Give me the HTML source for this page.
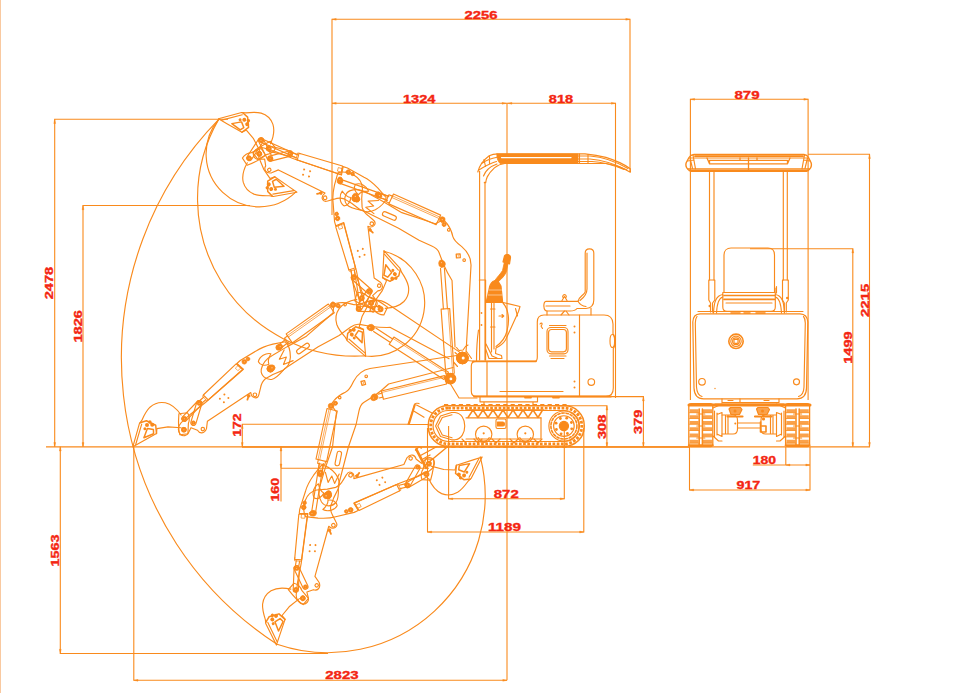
<!DOCTYPE html>
<html lang="en">
<head>
<meta charset="utf-8">
<title>Mini excavator working range and dimensions</title>
<style>
html,body{margin:0;padding:0;background:#fff;}
body{width:976px;height:693px;overflow:hidden;font-family:"Liberation Sans",sans-serif;}
svg{display:block;}
.ln{fill:none;stroke:#F98A1C;stroke-width:1.15;stroke-linecap:round;stroke-linejoin:round;}
.dim{fill:none;stroke:#F98A1C;stroke-width:1.1;}
.hv{fill:none;stroke:#F98A1C;stroke-width:1.5;}
text{font-family:"Liberation Sans",sans-serif;font-weight:bold;fill:#F42612;stroke:#F42612;stroke-width:0.35;}
</style>
</head>
<body>
<svg width="976" height="693" viewBox="0 0 976 693">
<rect x="0" y="0" width="976" height="693" fill="#fff"/>
<path d="M0.5 0V693" stroke="#F9C9A0" stroke-width="1" fill="none"/>
<g class="dim">
<path d="M46 446.8L870 446.8" stroke-width="1.3"/>
<path d="M242 446.9L690 446.9" stroke-width="1.55"/>
<path d="M228 119.3L54.7 119.3L54.7 446.8"/>
<path d="M250 205.5L83 205.5L83 446.8"/>
<path d="M60.3 446.8L60.3 653.5L328 653.5"/>
<path d="M133.8 446.8L133.8 680.3L507 680.3"/>
<path d="M507 103.3L507 680.3"/>
<path d="M332 215L332 19.3L630 19.3L630 171"/>
<path d="M332 103.3L615.5 103.3L615.5 398"/>
<path d="M242.3 446.8L242.3 424.3L408 424.3"/>
<path d="M281 446.8L281 501.6"/>
<path d="M281 468.2L429 468.2"/>
<path d="M448.6 426L448.6 498.8L564.3 498.8L564.3 426"/>
<path d="M427.5 428L427.5 532L583.8 532L583.8 428"/>
<path d="M556 405.7L606.9 405.7L606.9 446.8"/>
<path d="M560 396.6L643.4 396.6L643.4 446.8"/>
<path d="M690.4 400L690.4 99.3L808.1 99.3L808.1 400"/>
<path d="M808 154.3L869.5 154.3L869.5 446.8"/>
<path d="M750 248.7L852.8 248.7L852.8 446.8"/>
<path d="M689.5 446.8L689.5 490L810 490L810 446.8"/>
<path d="M752.8 465L810 465"/>
<path d="M785.8 446.8L785.8 465"/>
</g>
<g>
<text x="464.5" y="18.6" textLength="33" lengthAdjust="spacingAndGlyphs" font-size="10.6">2256</text>
<text x="403" y="102.6" textLength="32.5" lengthAdjust="spacingAndGlyphs" font-size="10.6">1324</text>
<text x="548.8" y="102.6" textLength="24.3" lengthAdjust="spacingAndGlyphs" font-size="10.6">818</text>
<text x="734.5" y="98.6" textLength="25" lengthAdjust="spacingAndGlyphs" font-size="10.6">879</text>
<text x="493.8" y="497.6" textLength="24.9" lengthAdjust="spacingAndGlyphs" font-size="10.6">872</text>
<text x="488" y="530.8" textLength="33" lengthAdjust="spacingAndGlyphs" font-size="10.6">1189</text>
<text x="325.3" y="679.1" textLength="33.2" lengthAdjust="spacingAndGlyphs" font-size="10.6">2823</text>
<text x="736.5" y="489.3" textLength="23.8" lengthAdjust="spacingAndGlyphs" font-size="10.6">917</text>
<text x="752.8" y="464.3" textLength="23.3" lengthAdjust="spacingAndGlyphs" font-size="10.6">180</text>
<text x="53.5" y="299.3" textLength="32.5" lengthAdjust="spacingAndGlyphs" font-size="10.6" transform="rotate(-90 53.5 299.3)">2478</text>
<text x="82" y="342.5" textLength="32.5" lengthAdjust="spacingAndGlyphs" font-size="10.6" transform="rotate(-90 82 342.5)">1826</text>
<text x="59.4" y="566.5" textLength="32" lengthAdjust="spacingAndGlyphs" font-size="10.6" transform="rotate(-90 59.4 566.5)">1563</text>
<text x="240.9" y="436.8" textLength="23.3" lengthAdjust="spacingAndGlyphs" font-size="10.6" transform="rotate(-90 240.9 436.8)">172</text>
<text x="279.4" y="501.6" textLength="23.8" lengthAdjust="spacingAndGlyphs" font-size="10.6" transform="rotate(-90 279.4 501.6)">160</text>
<text x="606.3" y="439" textLength="24.4" lengthAdjust="spacingAndGlyphs" font-size="10.6" transform="rotate(-90 606.3 439)">308</text>
<text x="642.4" y="434" textLength="24.4" lengthAdjust="spacingAndGlyphs" font-size="10.6" transform="rotate(-90 642.4 434)">379</text>
<text x="852.1" y="363.8" textLength="32.5" lengthAdjust="spacingAndGlyphs" font-size="10.6" transform="rotate(-90 852.1 363.8)">1499</text>
<text x="868.9" y="317" textLength="33.2" lengthAdjust="spacingAndGlyphs" font-size="10.6" transform="rotate(-90 868.9 317)">2215</text>
</g>
<g class="ln" stroke-width="1">
<path d="M219 119.2A341 341 0 0 0 277 644.2L277 644.2A157.2 157.2 0 0 0 480.3 456.8"/>
<path d="M218.8 119.1A157.9 157.9 0 0 0 365.7 355.8L365.7 356A53.3 53.3 0 0 0 383.9 251.2"/>
<path d="M219 119.2A53 53 0 0 0 296 191.9"/>
</g>
<g class="ln">
<path d="M477.8 172C479.5 165 482.2 160.9 489.2 155.7C492 154.3 495 153.9 497.9 153.9L585 153.9C593 154.6 600 155.8 605.9 157.4C611 159 615.5 160.8 619.8 162.6C624 164.6 627.5 166.6 630.3 168.7L630.3 172.2C627 170.3 623.5 168.6 619.8 167C615 165.3 611 164.3 605.9 163.5L504.8 163.5C500 164 497 165.8 494.4 167.9C490.5 171.5 488.5 174.5 487.4 176.6C486.3 179 485.9 181 485.7 182.7L484.3 182.7" stroke-width="1.2"/>
<path d="M497 154H578V163.5H500C497.5 161 496.5 157 497 154Z" fill="#F98A1C" stroke-width="0.8"/>
<path d="M501.5 157.6H571" stroke="#fff" stroke-width="1.3"/>
<path d="M479.5 169.5C484 167 489 163.5 496.5 161.5M481.5 163.5C486 160.5 490 158.5 497 157.3M489.5 156V163.5M484 159.5L485.5 166.5M483.5 176C485.5 170.5 490 166.5 497 164"/>
<path d="M578 156H590C603 157 615 161 628 168.5M578 159H590C602 160 614 163.5 627 170M578 161.5H592C603 162 613 165 624 169.5M579.5 154V163.5M588 154.5V163.5" stroke-width="1.1"/>
<path d="M479.6 171V360M485 182V360"/>
<path d="M479.3 280H485.6V360" />
</g>
<g class="ln">
<path d="M476 361.3H535C537 361 537.3 359 537.3 357V322C537.3 317 540 315 544 315H604C610 315 612.8 318 613 324V334C615.5 336 615.5 346 613.3 348.5V388C613.3 394 611 396.3 606 396.3H476C472.5 396.3 471.3 394 471.3 391V366C471.3 363 473 361.3 476 361.3Z"/>
<path d="M579.5 315V396.3M487 361.5V396M500 391.5H563"/>
<path d="M473 361.3H536M474 396.5H611" stroke-width="1.8"/>
<rect x="547" y="327.5" width="21" height="26.3" rx="4"/>
<rect x="548.6" y="329.5" width="17.8" height="22.3" rx="3"/>
<path d="M549.5 325.5H566M549.5 356H566M551 358.5H564"/>
<circle cx="591.3" cy="382" r="3.3"/>
<ellipse cx="612.3" cy="341" rx="2.3" ry="6.5"/>
<circle cx="574.5" cy="326.5" r="1" fill="#F98A1C" stroke="none"/>
<circle cx="574.5" cy="332.5" r="1" fill="#F98A1C" stroke="none"/>
<circle cx="574.5" cy="381.5" r="1" fill="#F98A1C" stroke="none"/>
<circle cx="574.5" cy="387.5" r="1" fill="#F98A1C" stroke="none"/>
<path d="M540 324C541.5 322 543 323.5 541.5 325.5M541 326L542.5 328.5"/>
<path d="M546 301.3H578C579 296.5 583 296 585.2 292V253C585.2 247.5 593.8 247.5 593.8 253V300C593.8 306 591 308 586 308.5H577C575 311 572 311 570 311H547C543 311 543 301.3 546 301.3Z"/>
<path d="M587 253V289C587 294 584 297.5 580 300.5M578 301.3C579.5 304 581 306 586 306.5M546 306H570M547 311V315M591 308V315"/>
<path d="M562 300.5L564.5 296.5L567 300.5M564.5 311L561 315M566 311L569 315M563 297.5A1.8 1.8 0 1 1 566 297.5"/>
<path d="M486.3 301.5L489.5 287C490.5 283.5 492 281.5 494.5 280.8L498 281L501 286L502.6 301.5Z" fill="#F98A1C"/>
<path d="M488 295H502M489 290H501.5" stroke="#fff" stroke-width="0.5"/>
<path d="M494.5 281C497 277 500.5 274 502.5 270.5L504.3 262.5L508 263.5L506.5 271.5C505 275.5 502 278.5 498.5 281.5Z" fill="#F98A1C" stroke-width="0.8"/>
<path d="M503 262L504.5 256C505.5 253.5 510.5 254.5 510.5 257.5L509.5 263.8Z" fill="#F98A1C" stroke-width="1.2"/>
<path d="M485.5 302.5L503 302.5L520 306.5L518.5 311.5L505.5 340C503 344 498 347 496 348L495.5 353.5L501.5 355.5L502 358.5H489L485.8 349.5"/>
<path d="M503 303C508.5 309 510 320 507 331C505.5 337.5 501 343 496 346.5M491.5 303V352M494 303V349M515.5 308.5L517.5 316M490.5 309H495M490.5 327H495M486 344L492 356L497 358"/>
<path d="M499 316H503.5M502 314.5L503.8 316L502 317.5"/>
<circle cx="481.5" cy="313" r="0.9" fill="#F98A1C" stroke="none"/>
<circle cx="481.5" cy="325" r="0.9" fill="#F98A1C" stroke="none"/>
<path d="M478.5 330C477 340 476.5 350 476.5 361"/>
</g>
<g class="ln">
<rect x="428.3" y="405.7" width="155.9" height="40.6" rx="19.5" ry="19.5" stroke-width="1.5"/>
<rect x="430.7" y="408.1" width="151.1" height="35.8" rx="17.5" ry="17.5" stroke-width="2.8" stroke-dasharray="2.7 1.5" stroke-linecap="butt"/>
<rect x="433.1" y="410.5" width="146.3" height="31" rx="15.2" ry="15.2" stroke-width="1.2"/>
<path d="M444 405 H568" stroke-dasharray="4.2 3.2" stroke-width="2" stroke-linecap="butt"/>
<path d="M444 446.8 H568" stroke-dasharray="4.2 3.2" stroke-width="2.2" stroke-linecap="butt"/>
<path d="M541 417.8V439H466"/>
<path d="M468 417.5L473 410L478 417.5L483 410L488 417.5L493 410L498 417.5L503 410L508 417.5L513 410L518 417.5L523 410L528 417.5L533 410L538 417.5L542 411" stroke-width="1.5"/>
<path d="M466 409.8H544M466 417.8H541" stroke-width="1.2"/>
<path d="M462 439L466 443M474 439L478 443L482 439M492 439L496 443L500 439M510 439L514 443L518 439M534 439L538 443L542 439" />
<path d="M435.6 426L440.5 416L451.5 412.5H455C468 413.5 468 438.5 455 439.8H451.5L440.5 436.5Z"/>
<path d="M437.8 426L442.3 417.5L452 414.8M437.8 426L442.3 435L452 437.8"/>
<circle cx="483.7" cy="434.3" r="8.2"/>
<path d="M478.2 437.5A6 6 0 0 0 489.2 437.5"/>
<circle cx="483.7" cy="433.3" r="1.1" fill="#F98A1C" stroke="none"/>
<circle cx="525.3" cy="434.3" r="8.2"/>
<path d="M519.8 437.5A6 6 0 0 0 530.8 437.5"/>
<circle cx="525.3" cy="433.3" r="1.1" fill="#F98A1C" stroke="none"/>
<rect x="496" y="419" width="10" height="9.5" rx="1.5"/>
<path d="M497.5 422H503C505 422 505 426 503 426H497.5Z" fill="#F98A1C"/>
<circle cx="563.9" cy="426" r="15"/>
<circle cx="563.9" cy="426" r="13" stroke-dasharray="2.4 1.8" stroke-width="1.6"/>
<circle cx="563.9" cy="426" r="10.3"/>
<circle cx="563.9" cy="426" r="4.6" fill="#F98A1C"/>
<circle cx="571.7" cy="428.8" r="1.4" fill="#F98A1C" stroke="none"/>
<circle cx="567.4" cy="433.5" r="1.4" fill="#F98A1C" stroke="none"/>
<circle cx="561.1" cy="433.8" r="1.4" fill="#F98A1C" stroke="none"/>
<circle cx="556.4" cy="429.5" r="1.4" fill="#F98A1C" stroke="none"/>
<circle cx="556.1" cy="423.2" r="1.4" fill="#F98A1C" stroke="none"/>
<circle cx="560.4" cy="418.5" r="1.4" fill="#F98A1C" stroke="none"/>
<circle cx="566.7" cy="418.2" r="1.4" fill="#F98A1C" stroke="none"/>
<circle cx="571.4" cy="422.5" r="1.4" fill="#F98A1C" stroke="none"/>
<path d="M480 397V401.8H537.5V397M484 401.8V404.5M533 401.8V404.5"/>
<path d="M525 397.5H531M553 397.5H559" stroke-width="1.8"/>
<path d="M416.3 449.3L426 467.8" stroke-width="2.6"/>
<path d="M415.5 450L419 446.8L421.5 448M420.5 455.5L437 446.5M425.5 465L447.5 446.8M423 459L430 455" stroke-width="1.4"/>
<path d="M409 424L415 404.6" stroke-width="1.8"/>
<path d="M408 424.5L414.4 404.4C415 403 418 403 419 403.6M416.5 405L433 413.5M413.3 410.8L424 417.3M408 424.5H428"/>
</g>
<g class="ln">
<path d="M694 154.5H804C806 154.8 807.5 155.8 808.5 157.5L811 162.5C812.2 166 810.5 170 806.5 171.3H691C687 170 685 166 686.3 162.5L689 157.5C690 155.8 691.5 154.8 694 154.5Z" stroke-width="1.4"/>
<path d="M690 158H807.5M688 168.8H809.5" />
<path d="M689.5 170.4H808" stroke-width="1.8"/>
<path d="M693 155L695.5 168.8M804.5 155L802 168.8M687.5 161L693.5 160M810 161L804 160M690 158L692.5 168.5M807.5 158L805 168.5" />
<path d="M707 158L709.5 163.8H787.5L790 158M709.5 163.8V160.3H787.5V163.8M748.5 158V171M740 158V160.3M757 158V160.3" stroke-width="1.3"/>
<path d="M695 156.2H803" stroke-width="1.7"/>
<path d="M709.5 171.3V280M714 171.3V280M783.3 171.3V280M787.3 171.3V280"/>
<path d="M708.8 280H714.8V300L712.5 303V312M708.8 280V300L710.5 303V312M782.5 280H788.3V300L786.3 303V312M782.5 280V300L784.3 303V312"/>
<circle cx="709.8" cy="306" r="1.3" fill="#F98A1C" stroke="none"/>
<circle cx="787.3" cy="298" r="1.3" fill="#F98A1C" stroke="none"/>
<path d="M724 292.5V255C724 250.5 727 248 731 248H768C772 248 774.5 250.5 774.5 255V292.5"/>
<path d="M722.8 292.5H775.3V307C775.3 310 773.5 311.3 771 311.3H727C724.5 311.3 722.8 310 722.8 307Z"/>
<path d="M724 295.5H774.5M724 299.3H774.5" stroke-width="1.7"/>
<path d="M726 303H772"/>
<path d="M722.8 294.5C716 295.5 714 302 713.5 313M775.3 294.5C782 295.5 784 302 784.5 313M722.8 297C718.5 298 717 304 716.5 313M775.3 297C779.5 298 781 304 781.5 313M775 288V292M776.5 286.5V293"/>
<path d="M731 313H740M744 313H750M756 313H765" stroke-width="1.5"/>
<path d="M700 313.8H800C805 314 807.5 317 807.8 322L806.5 388C806.3 395 803 398.8 797 398.8H703.5C697.5 398.8 694.3 395 694 388L692.8 322C693 317 695.5 314 700 313.8Z" stroke-width="1.2"/>
<path d="M697 316.5C695.8 318 695.3 320 695.3 323L696.5 387C696.8 392 698.5 395.5 702 396.5M803.5 316.5C804.8 318 805.3 320 805.3 323L804 387C803.8 392 802 395.5 798.5 396.5M698 311.5H803"/>
<circle cx="736" cy="341.3" r="7.2" stroke-width="1.6"/>
<circle cx="736" cy="341.3" r="5.2"/>
<circle cx="736" cy="341.3" r="3.4"/>
<rect x="734" y="339.3" width="4" height="4" rx="0.8"/>
<circle cx="702" cy="381.8" r="3.3"/>
<circle cx="796.5" cy="381.8" r="3"/>
<circle cx="715" cy="388.5" r="0.7" fill="#F98A1C" stroke="none"/>
<path d="M722 398.8V402.5H779V398.8M740 398.8V402.5M728 400.5H733M764 400.5H769M715 404H784"/>
<path d="M689 405H810" stroke-width="3"/>
<rect x="688.8" y="403.6" width="24" height="43" rx="2.5" stroke-width="1.3"/>
<path d="M689.6 411H698.6M703 411H712" stroke-width="3.3" stroke="#FAA24C" stroke-linecap="butt"/>
<path d="M689.6 412.7H698.6M703 412.7H712" stroke-width="0.8"/>
<path d="M689.6 416.8H698.6M703 416.8H712" stroke-width="3.3" stroke="#FAA24C" stroke-linecap="butt"/>
<path d="M689.6 418.5H698.6M703 418.5H712" stroke-width="0.8"/>
<path d="M689.6 422.6H698.6M703 422.6H712" stroke-width="3.3" stroke="#FAA24C" stroke-linecap="butt"/>
<path d="M689.6 424.3H698.6M703 424.3H712" stroke-width="0.8"/>
<path d="M689.6 428.8H698.6M703 428.8H712" stroke-width="3.3" stroke="#FAA24C" stroke-linecap="butt"/>
<path d="M689.6 430.5H698.6M703 430.5H712" stroke-width="0.8"/>
<path d="M689.6 435.2H698.6M703 435.2H712" stroke-width="3.3" stroke="#FAA24C" stroke-linecap="butt"/>
<path d="M689.6 436.9H698.6M703 436.9H712" stroke-width="0.8"/>
<path d="M689.6 441.5H698.6M703 441.5H712" stroke-width="3.3" stroke="#FAA24C" stroke-linecap="butt"/>
<path d="M689.6 443.2H698.6M703 443.2H712" stroke-width="0.8"/>
<path d="M699.2 409V445.5M702.4 409V445.5" stroke-width="1.5"/>
<path d="M696.8 414H704.8M696.8 426H704.8M696.8 438H704.8" stroke-width="1.2"/>
<path d="M688.8 445.3H712.8" stroke-width="2"/>
<rect x="785.6" y="403.6" width="24" height="43" rx="2.5" stroke-width="1.3"/>
<path d="M786.4 411H795.4M799.8 411H808.8" stroke-width="3.3" stroke="#FAA24C" stroke-linecap="butt"/>
<path d="M786.4 412.7H795.4M799.8 412.7H808.8" stroke-width="0.8"/>
<path d="M786.4 416.8H795.4M799.8 416.8H808.8" stroke-width="3.3" stroke="#FAA24C" stroke-linecap="butt"/>
<path d="M786.4 418.5H795.4M799.8 418.5H808.8" stroke-width="0.8"/>
<path d="M786.4 422.6H795.4M799.8 422.6H808.8" stroke-width="3.3" stroke="#FAA24C" stroke-linecap="butt"/>
<path d="M786.4 424.3H795.4M799.8 424.3H808.8" stroke-width="0.8"/>
<path d="M786.4 428.8H795.4M799.8 428.8H808.8" stroke-width="3.3" stroke="#FAA24C" stroke-linecap="butt"/>
<path d="M786.4 430.5H795.4M799.8 430.5H808.8" stroke-width="0.8"/>
<path d="M786.4 435.2H795.4M799.8 435.2H808.8" stroke-width="3.3" stroke="#FAA24C" stroke-linecap="butt"/>
<path d="M786.4 436.9H795.4M799.8 436.9H808.8" stroke-width="0.8"/>
<path d="M786.4 441.5H795.4M799.8 441.5H808.8" stroke-width="3.3" stroke="#FAA24C" stroke-linecap="butt"/>
<path d="M786.4 443.2H795.4M799.8 443.2H808.8" stroke-width="0.8"/>
<path d="M796 409V445.5M799.2 409V445.5" stroke-width="1.5"/>
<path d="M793.6 414H801.6M793.6 426H801.6M793.6 438H801.6" stroke-width="1.2"/>
<path d="M785.6 445.3H809.6" stroke-width="2"/>
<path d="M713 408L722 404M785.5 408L776.5 404M713 436L718.5 441H722M785.5 436L780 441H776.5"/>
<path d="M714.5 411V437M717 413V435M784 411V437M781.5 413V435M717 414.5L722 412.5V436.5L717 434M781.5 414.5L776.5 412.5V436.5L781.5 434"/>
<path d="M722 415H733C736 415 737.5 417 737.5 420V429C737.5 432 736 434 733 434H722M776.5 415H765.5C762.5 415 761 417 761 420V429C761 432 762.5 434 765.5 434H776.5M737.5 423H761M737.5 428H761M725.5 415V434M728 415V434M773 415V434M770.5 415V434"/>
<path d="M729 409L730.5 407.5L740.5 407.5L742 409.5L739.5 414.5H731ZM756.5 409L758 407.5L768 407.5L769.5 409.5L767 414.5H758.5Z" stroke-width="1.2" fill="#FAA24C"/>
<path d="M727.5 416.5H742.5M755 416.5H771.5" stroke-width="2.2"/>
<path d="M760.5 422V432H766V426H762" stroke-width="1.6"/>
<circle cx="735" cy="411" r="1.5" fill="#F98A1C" stroke="none"/>
<circle cx="762.5" cy="411" r="1.5" fill="#F98A1C" stroke="none"/>
<circle cx="763.5" cy="419" r="1.6" fill="#F98A1C" stroke="none"/>
<circle cx="735.3" cy="423.5" r="1" fill="#F98A1C" stroke="none"/>
</g>
<g class="ln" transform="rotate(101.80 462.4 358)">
<path d="M456.8 355.5L370 368.5C362 370 357.5 374 353.5 381.4C350.5 388 349 390.5 345.3 392.3C340 394.5 337 397 334 400.5L331 404.6L336.5 412L335 424.5L332.5 447L325.4 467.7L320.5 484C318.5 490 318.5 497 321.5 502C325 507 332 507 336 502.5C339 498.5 338.5 492 338.3 486L348.4 447L356.1 424.5L359 410.9C360 406.5 361.5 404 363.7 402.6L374 396C379 392.5 384 388.5 388.6 384L453 367.5"/>
<circle cx="462.4" cy="358" r="5.6"/>
<circle cx="462.4" cy="358" r="3.6" fill="#F98A1C" stroke-width="0.6"/><circle cx="462.4" cy="358" r="0.8" fill="#FBC28E" stroke="none"/>
<circle cx="327.9" cy="495.4" r="3.4" fill="#F98A1C" stroke-width="0.6"/><circle cx="327.9" cy="495.4" r="0.7" fill="#FBC28E" stroke="none"/>
<circle cx="374.7" cy="397" r="3.2" fill="#F98A1C" stroke-width="0.6"/><circle cx="374.7" cy="397" r="0.7" fill="#FBC28E" stroke="none"/>
<circle cx="373.4" cy="398" r="2.7" fill="#F98A1C" stroke-width="0.6"/><circle cx="373.4" cy="398" r="0.6" fill="#FBC28E" stroke="none"/>
<circle cx="331" cy="406" r="2.8" fill="#F98A1C" stroke-width="0.6"/><circle cx="331" cy="406" r="0.6" fill="#FBC28E" stroke="none"/>
<circle cx="335.3" cy="403.2" r="2.2" fill="#F98A1C" stroke-width="0.6"/><circle cx="335.3" cy="403.2" r="0.5" fill="#FBC28E" stroke="none"/>
<path d="M325.4 472.3L328.1 482.4L331.8 476L334.6 483.4L339.2 474.1"/>
<path d="M337.1 453.1L335.1 463.1A2.2 2.2 0 0 0 339.5 463.9L341.5 453.9A2.2 2.2 0 0 0 337.1 453.1Z"/>
<path d="M361 381.5L364.6 380.6L365.6 384.3L362 385.3ZM363.3 383H363.4" stroke-width="1.3"/>
<circle cx="366.2" cy="376.3" r="1.3"/>
<circle cx="339.7" cy="397.6" r="1.3"/>
<path d="M327 408.5L337.3 411L326.6 461.6L316 459Z"/>
<path d="M329 409.2L318 459.6M330.6 409.6L319.7 460" stroke-width="0.7"/>
<path d="M318.3 459.7L317.6 463.3L324.8 465L325.6 461.4"/>
</g>
<g class="ln">
<path d="M454.3 373.3L449.7 308.5L441.1 309.1L445.8 373.9Z"/>
<path d="M452.7 373.4L448.1 308.6" stroke-width="0.7"/>
<path d="M447.4 308.6L444.4 268"/>
<path d="M443.4 308.9L440.5 268.3"/>
</g>
<g class="ln" transform="rotate(42.40 462.4 358)">
<path d="M456.8 355.5L370 368.5C362 370 357.5 374 353.5 381.4C350.5 388 349 390.5 345.3 392.3C340 394.5 337 397 334 400.5L331 404.6L336.5 412L335 424.5L332.5 447L325.4 467.7L320.5 484C318.5 490 318.5 497 321.5 502C325 507 332 507 336 502.5C339 498.5 338.5 492 338.3 486L348.4 447L356.1 424.5L359 410.9C360 406.5 361.5 404 363.7 402.6L374 396C379 392.5 384 388.5 388.6 384L453 367.5"/>
<circle cx="462.4" cy="358" r="5.6"/>
<circle cx="462.4" cy="358" r="3.6" fill="#F98A1C" stroke-width="0.6"/><circle cx="462.4" cy="358" r="0.8" fill="#FBC28E" stroke="none"/>
<circle cx="327.9" cy="495.4" r="3.4" fill="#F98A1C" stroke-width="0.6"/><circle cx="327.9" cy="495.4" r="0.7" fill="#FBC28E" stroke="none"/>
<circle cx="374.7" cy="397" r="3.2" fill="#F98A1C" stroke-width="0.6"/><circle cx="374.7" cy="397" r="0.7" fill="#FBC28E" stroke="none"/>
<circle cx="373.4" cy="398" r="2.7" fill="#F98A1C" stroke-width="0.6"/><circle cx="373.4" cy="398" r="0.6" fill="#FBC28E" stroke="none"/>
<circle cx="331" cy="406" r="2.8" fill="#F98A1C" stroke-width="0.6"/><circle cx="331" cy="406" r="0.6" fill="#FBC28E" stroke="none"/>
<circle cx="335.3" cy="403.2" r="2.2" fill="#F98A1C" stroke-width="0.6"/><circle cx="335.3" cy="403.2" r="0.5" fill="#FBC28E" stroke="none"/>
<path d="M325.4 472.3L328.1 482.4L331.8 476L334.6 483.4L339.2 474.1"/>
<path d="M337.1 453.1L335.1 463.1A2.2 2.2 0 0 0 339.5 463.9L341.5 453.9A2.2 2.2 0 0 0 337.1 453.1Z"/>
<path d="M361 381.5L364.6 380.6L365.6 384.3L362 385.3ZM363.3 383H363.4" stroke-width="1.3"/>
<circle cx="366.2" cy="376.3" r="1.3"/>
<circle cx="339.7" cy="397.6" r="1.3"/>
<path d="M327 408.5L337.3 411L326.6 461.6L316 459Z"/>
<path d="M329 409.2L318 459.6M330.6 409.6L319.7 460" stroke-width="0.7"/>
<path d="M318.3 459.7L317.6 463.3L324.8 465L325.6 461.4"/>
</g>
<g class="ln">
<path d="M448.5 372.3L393.9 337.1L389.2 344.3L443.9 379.5Z"/>
<path d="M447.7 373.6L393 338.4" stroke-width="0.7"/>
<path d="M392.6 339L375.8 328.1"/>
<path d="M390.5 342.4L373.6 331.5"/>
</g>
<g class="ln" transform="rotate(0.00 462.4 358)">
<path d="M456.8 355.5L370 368.5C362 370 357.5 374 353.5 381.4C350.5 388 349 390.5 345.3 392.3C340 394.5 337 397 334 400.5L331 404.6L336.5 412L335 424.5L332.5 447L325.4 467.7L320.5 484C318.5 490 318.5 497 321.5 502C325 507 332 507 336 502.5C339 498.5 338.5 492 338.3 486L348.4 447L356.1 424.5L359 410.9C360 406.5 361.5 404 363.7 402.6L374 396C379 392.5 384 388.5 388.6 384L453 367.5"/>
<circle cx="462.4" cy="358" r="5.6"/>
<circle cx="462.4" cy="358" r="3.6" fill="#F98A1C" stroke-width="0.6"/><circle cx="462.4" cy="358" r="0.8" fill="#FBC28E" stroke="none"/>
<circle cx="327.9" cy="495.4" r="3.4" fill="#F98A1C" stroke-width="0.6"/><circle cx="327.9" cy="495.4" r="0.7" fill="#FBC28E" stroke="none"/>
<circle cx="374.7" cy="397" r="3.2" fill="#F98A1C" stroke-width="0.6"/><circle cx="374.7" cy="397" r="0.7" fill="#FBC28E" stroke="none"/>
<circle cx="373.4" cy="398" r="2.7" fill="#F98A1C" stroke-width="0.6"/><circle cx="373.4" cy="398" r="0.6" fill="#FBC28E" stroke="none"/>
<circle cx="331" cy="406" r="2.8" fill="#F98A1C" stroke-width="0.6"/><circle cx="331" cy="406" r="0.6" fill="#FBC28E" stroke="none"/>
<circle cx="335.3" cy="403.2" r="2.2" fill="#F98A1C" stroke-width="0.6"/><circle cx="335.3" cy="403.2" r="0.5" fill="#FBC28E" stroke="none"/>
<path d="M325.4 472.3L328.1 482.4L331.8 476L334.6 483.4L339.2 474.1"/>
<path d="M337.1 453.1L335.1 463.1A2.2 2.2 0 0 0 339.5 463.9L341.5 453.9A2.2 2.2 0 0 0 337.1 453.1Z"/>
<path d="M361 381.5L364.6 380.6L365.6 384.3L362 385.3ZM363.3 383H363.4" stroke-width="1.3"/>
<circle cx="366.2" cy="376.3" r="1.3"/>
<circle cx="339.7" cy="397.6" r="1.3"/>
<path d="M327 408.5L337.3 411L326.6 461.6L316 459Z"/>
<path d="M329 409.2L318 459.6M330.6 409.6L319.7 460" stroke-width="0.7"/>
<path d="M318.3 459.7L317.6 463.3L324.8 465L325.6 461.4"/>
</g>
<g class="ln">
<path d="M444.5 375.6L381.4 391L383.4 399.3L446.6 384Z"/>
<path d="M444.9 377.2L381.7 392.5" stroke-width="0.7"/>
<path d="M381.9 393.2L378.1 394.1"/>
<path d="M382.9 397.1L379.1 398"/>
</g>
<g class="ln" transform="translate(355.4 198.2) rotate(59.99) translate(-270 -368.5)">
<path d="M284.8 341.5L272.5 343.9Q262 346.5 256.1 350.5L239.8 360.3L236.5 363.3L243 369L205 402.3L190 414L180.8 422.5C177.5 426 177 431.5 180 434.3C182.5 436.5 186.5 435.8 188.1 432.5L190.6 427.5L197.1 430C199 433.5 204 434 206.1 428.4L207 421L248 393.9L250.4 392.3C251 398.5 257.5 399.5 258.6 393.9L260.2 387.4Q261 382 265 378.5L272.5 374.3L282.4 370.2Q289.5 366 290 357Q290 346 284.8 341.5Z"/>
<circle cx="270" cy="368.5" r="3.4" fill="#F98A1C" stroke-width="0.6"/><circle cx="270" cy="368.5" r="0.7" fill="#FBC28E" stroke="none"/>
<circle cx="271.6" cy="367.6" r="3" fill="#F98A1C" stroke-width="0.6"/><circle cx="271.6" cy="367.6" r="0.7" fill="#FBC28E" stroke="none"/>
<circle cx="278.3" cy="347.2" r="2.9" fill="#F98A1C" stroke-width="0.6"/><circle cx="278.3" cy="347.2" r="0.6" fill="#FBC28E" stroke="none"/>
<circle cx="279.8" cy="346.4" r="2.5" fill="#F98A1C" stroke-width="0.6"/><circle cx="279.8" cy="346.4" r="0.6" fill="#FBC28E" stroke="none"/>
<circle cx="243.9" cy="361.6" r="2.4" fill="#F98A1C" stroke-width="0.6"/><circle cx="243.9" cy="361.6" r="0.5" fill="#FBC28E" stroke="none"/>
<circle cx="247.5" cy="358.8" r="1.9" fill="#F98A1C" stroke-width="0.6"/><circle cx="247.5" cy="358.8" r="0.4" fill="#FBC28E" stroke="none"/>
<circle cx="202.4" cy="428.9" r="1.7"/>
<circle cx="254.5" cy="394.6" r="1.8"/>
<circle cx="248.2" cy="395.8" r="1.4" fill="#F98A1C" stroke-width="0.6"/><circle cx="248.2" cy="395.8" r="0.3" fill="#FBC28E" stroke="none"/>
<path d="M248.5 395L247 399.5" stroke-width="1.8"/>
<circle cx="219.5" cy="398.5" r="1" fill="#F98A1C" stroke="none"/>
<circle cx="224" cy="394.2" r="1" fill="#F98A1C" stroke="none"/>
<circle cx="223.5" cy="402" r="1" fill="#F98A1C" stroke="none"/>
<circle cx="228" cy="397.8" r="1" fill="#F98A1C" stroke="none"/>
<path d="M258 361.5C259 356 265.5 352.5 270.5 353.5C268.5 357 267 360.5 268.5 364C264.5 366 259.5 365 258 361.5Z"/>
<circle cx="183.5" cy="429.5" r="2.2"/>
<path d="M235.7 363.6L202.9 394.8L207.8 399.7L242.2 369.3Z"/>
<path d="M238.3 365.3L240.6 367.6L237.5 370.5L235.2 368.2Z" stroke-width="0.7"/>
<path d="M204.2 393.6L201.9 395.8L206.7 400.8L209 398.6" stroke-width="0.7"/>
</g>
<g class="ln">
<path d="M388.7 196.4L378.7 192.9"/>
<path d="M387.3 200.2L377.3 196.6"/>
</g>
<g class="ln" transform="translate(259.3 153.8) rotate(59.03) translate(-183.5 -429.5)">
<path d="M180.7 414.8C176 408 171 404 165 402.6C159 401.5 153.5 403.5 149.6 407C146 410.5 143.5 415.5 141.4 420.2L139 423.4L132.5 446.5L141.4 441.5L156.1 433.3L156.5 428.4L167.6 426.7L180.7 427.5"/>
<path d="M139.8 422.6L146 420.6L155.3 425.1L156.1 433.3M143.5 437.5L147 428.3L153 429.3L153.2 433.6Z" stroke-width="1.5"/>
<path d="M141.3 424L135.3 444.3"/>
<path d="M178.5 413.5L187 412.5C189 415 189.5 420 188 423L187.5 433.5L179.5 434.5C178 430 178 420 178.5 413.5Z"/>
<circle cx="184" cy="418.5" r="2.4" fill="#F98A1C" stroke-width="0.6"/><circle cx="184" cy="418.5" r="0.5" fill="#FBC28E" stroke="none"/>
<circle cx="183.5" cy="429.5" r="2.4" fill="#F98A1C" stroke-width="0.6"/><circle cx="183.5" cy="429.5" r="0.5" fill="#FBC28E" stroke="none"/>
<circle cx="146.6" cy="424.8" r="2" fill="#F98A1C" stroke="none"/>
<circle cx="151.8" cy="424.6" r="2" fill="#F98A1C" stroke="none"/>
<circle cx="149.5" cy="421.8" r="1.7" fill="#F98A1C" stroke="none"/>
<circle cx="144.5" cy="428.5" r="1.5" fill="#F98A1C" stroke="none"/>
</g>
<g class="ln">
<path d="M270.7 161.1L290.5 156.1A2.6 2.6 0 0 0 289.2 151L269.4 156.1A2.6 2.6 0 0 0 270.7 161.1Z"/>
<path d="M268.4 151.1L289.2 156.1A2.6 2.6 0 0 0 290.4 151L269.6 146A2.6 2.6 0 0 0 268.4 151.1Z"/>
<circle cx="289.8" cy="153.6" r="2.2" fill="#F98A1C" stroke-width="0.6"/><circle cx="289.8" cy="153.6" r="0.5" fill="#FBC28E" stroke="none"/>
<circle cx="270.1" cy="158.6" r="2" fill="#F98A1C" stroke-width="0.6"/><circle cx="270.1" cy="158.6" r="0.4" fill="#FBC28E" stroke="none"/>
<path d="M297.4 154.6L290.4 152"/>
<path d="M296.2 157.8L289.2 155.2"/>
</g>
<g class="ln" transform="translate(259.3 153.8) rotate(-115.97) translate(-183.5 -429.5)">
<path d="M180.7 414.8C176 408 171 404 165 402.6C159 401.5 153.5 403.5 149.6 407C146 410.5 143.5 415.5 141.4 420.2L139 423.4L132.5 446.5L141.4 441.5L156.1 433.3L156.5 428.4L167.6 426.7L180.7 427.5"/>
<path d="M139.8 422.6L146 420.6L155.3 425.1L156.1 433.3M143.5 437.5L147 428.3L153 429.3L153.2 433.6Z" stroke-width="1.5"/>
<path d="M141.3 424L135.3 444.3"/>
<path d="M178.5 413.5L187 412.5C189 415 189.5 420 188 423L187.5 433.5L179.5 434.5C178 430 178 420 178.5 413.5Z"/>
<circle cx="184" cy="418.5" r="2.4" fill="#F98A1C" stroke-width="0.6"/><circle cx="184" cy="418.5" r="0.5" fill="#FBC28E" stroke="none"/>
<circle cx="183.5" cy="429.5" r="2.4" fill="#F98A1C" stroke-width="0.6"/><circle cx="183.5" cy="429.5" r="0.5" fill="#FBC28E" stroke="none"/>
<circle cx="146.6" cy="424.8" r="2" fill="#F98A1C" stroke="none"/>
<circle cx="151.8" cy="424.6" r="2" fill="#F98A1C" stroke="none"/>
<circle cx="149.5" cy="421.8" r="1.7" fill="#F98A1C" stroke="none"/>
<circle cx="144.5" cy="428.5" r="1.5" fill="#F98A1C" stroke="none"/>
</g>
<g class="ln">
<path d="M272.4 157.4L263.3 139.1A2.6 2.6 0 0 0 258.7 141.5L267.7 159.7A2.6 2.6 0 0 0 272.4 157.4Z"/>
<path d="M251.4 159.6L263.2 141.7A2.6 2.6 0 0 0 258.8 138.9L247.1 156.7A2.6 2.6 0 0 0 251.4 159.6Z"/>
<circle cx="261" cy="140.3" r="2.2" fill="#F98A1C" stroke-width="0.6"/><circle cx="261" cy="140.3" r="0.5" fill="#FBC28E" stroke="none"/>
<circle cx="270.1" cy="158.6" r="2" fill="#F98A1C" stroke-width="0.6"/><circle cx="270.1" cy="158.6" r="0.4" fill="#FBC28E" stroke="none"/>
<path d="M297.5 154.7L261.7 138.7"/>
<path d="M296.1 157.8L260.3 141.9"/>
</g>
<g class="ln" transform="translate(355.4 198.2) rotate(-63.41) translate(-270 -368.5)">
<path d="M284.8 341.5L272.5 343.9Q262 346.5 256.1 350.5L239.8 360.3L236.5 363.3L243 369L205 402.3L190 414L180.8 422.5C177.5 426 177 431.5 180 434.3C182.5 436.5 186.5 435.8 188.1 432.5L190.6 427.5L197.1 430C199 433.5 204 434 206.1 428.4L207 421L248 393.9L250.4 392.3C251 398.5 257.5 399.5 258.6 393.9L260.2 387.4Q261 382 265 378.5L272.5 374.3L282.4 370.2Q289.5 366 290 357Q290 346 284.8 341.5Z"/>
<circle cx="270" cy="368.5" r="3.4" fill="#F98A1C" stroke-width="0.6"/><circle cx="270" cy="368.5" r="0.7" fill="#FBC28E" stroke="none"/>
<circle cx="271.6" cy="367.6" r="3" fill="#F98A1C" stroke-width="0.6"/><circle cx="271.6" cy="367.6" r="0.7" fill="#FBC28E" stroke="none"/>
<circle cx="278.3" cy="347.2" r="2.9" fill="#F98A1C" stroke-width="0.6"/><circle cx="278.3" cy="347.2" r="0.6" fill="#FBC28E" stroke="none"/>
<circle cx="279.8" cy="346.4" r="2.5" fill="#F98A1C" stroke-width="0.6"/><circle cx="279.8" cy="346.4" r="0.6" fill="#FBC28E" stroke="none"/>
<circle cx="243.9" cy="361.6" r="2.4" fill="#F98A1C" stroke-width="0.6"/><circle cx="243.9" cy="361.6" r="0.5" fill="#FBC28E" stroke="none"/>
<circle cx="247.5" cy="358.8" r="1.9" fill="#F98A1C" stroke-width="0.6"/><circle cx="247.5" cy="358.8" r="0.4" fill="#FBC28E" stroke="none"/>
<circle cx="202.4" cy="428.9" r="1.7"/>
<circle cx="254.5" cy="394.6" r="1.8"/>
<circle cx="248.2" cy="395.8" r="1.4" fill="#F98A1C" stroke-width="0.6"/><circle cx="248.2" cy="395.8" r="0.3" fill="#FBC28E" stroke="none"/>
<path d="M248.5 395L247 399.5" stroke-width="1.8"/>
<circle cx="219.5" cy="398.5" r="1" fill="#F98A1C" stroke="none"/>
<circle cx="224" cy="394.2" r="1" fill="#F98A1C" stroke="none"/>
<circle cx="223.5" cy="402" r="1" fill="#F98A1C" stroke="none"/>
<circle cx="228" cy="397.8" r="1" fill="#F98A1C" stroke="none"/>
<path d="M258 361.5C259 356 265.5 352.5 270.5 353.5C268.5 357 267 360.5 268.5 364C264.5 366 259.5 365 258 361.5Z"/>
<circle cx="183.5" cy="429.5" r="2.2"/>
<path d="M235.7 363.6L202.9 394.8L207.8 399.7L242.2 369.3Z"/>
<path d="M238.3 365.3L240.6 367.6L237.5 370.5L235.2 368.2Z" stroke-width="0.7"/>
<path d="M204.2 393.6L201.9 395.8L206.7 400.8L209 398.6" stroke-width="0.7"/>
</g>
<g class="ln">
<path d="M388.7 196.4L340.8 179.4"/>
<path d="M387.3 200.2L339.4 183.1"/>
</g>
<g class="ln" transform="translate(371.3 302.9) rotate(-237.92) translate(-183.5 -429.5)">
<path d="M180.7 414.8C176 408 171 404 165 402.6C159 401.5 153.5 403.5 149.6 407C146 410.5 143.5 415.5 141.4 420.2L139 423.4L132.5 446.5L141.4 441.5L156.1 433.3L156.5 428.4L167.6 426.7L180.7 427.5"/>
<path d="M139.8 422.6L146 420.6L155.3 425.1L156.1 433.3M143.5 437.5L147 428.3L153 429.3L153.2 433.6Z" stroke-width="1.5"/>
<path d="M141.3 424L135.3 444.3"/>
<path d="M178.5 413.5L187 412.5C189 415 189.5 420 188 423L187.5 433.5L179.5 434.5C178 430 178 420 178.5 413.5Z"/>
<circle cx="184" cy="418.5" r="2.4" fill="#F98A1C" stroke-width="0.6"/><circle cx="184" cy="418.5" r="0.5" fill="#FBC28E" stroke="none"/>
<circle cx="183.5" cy="429.5" r="2.4" fill="#F98A1C" stroke-width="0.6"/><circle cx="183.5" cy="429.5" r="0.5" fill="#FBC28E" stroke="none"/>
<circle cx="146.6" cy="424.8" r="2" fill="#F98A1C" stroke="none"/>
<circle cx="151.8" cy="424.6" r="2" fill="#F98A1C" stroke="none"/>
<circle cx="149.5" cy="421.8" r="1.7" fill="#F98A1C" stroke="none"/>
<circle cx="144.5" cy="428.5" r="1.5" fill="#F98A1C" stroke="none"/>
</g>
<g class="ln">
<path d="M367.1 289.9L356.7 307.5A2.6 2.6 0 0 0 361.1 310.1L371.6 292.6A2.6 2.6 0 0 0 367.1 289.9Z"/>
<path d="M380.3 306.5L358.9 306.2A2.6 2.6 0 0 0 358.9 311.4L380.3 311.7A2.6 2.6 0 0 0 380.3 306.5Z"/>
<circle cx="358.9" cy="308.8" r="2.2" fill="#F98A1C" stroke-width="0.6"/><circle cx="358.9" cy="308.8" r="0.5" fill="#FBC28E" stroke="none"/>
<circle cx="369.3" cy="291.3" r="2" fill="#F98A1C" stroke-width="0.6"/><circle cx="369.3" cy="291.3" r="0.4" fill="#FBC28E" stroke="none"/>
<path d="M351 270.6L357.2 309.1"/>
<path d="M354.3 270L360.6 308.5"/>
</g>
<g class="ln" transform="translate(371.3 302.9) rotate(-65.57) translate(-183.5 -429.5)">
<path d="M180.7 414.8C176 408 171 404 165 402.6C159 401.5 153.5 403.5 149.6 407C146 410.5 143.5 415.5 141.4 420.2L139 423.4L132.5 446.5L141.4 441.5L156.1 433.3L156.5 428.4L167.6 426.7L180.7 427.5"/>
<path d="M139.8 422.6L146 420.6L155.3 425.1L156.1 433.3M143.5 437.5L147 428.3L153 429.3L153.2 433.6Z" stroke-width="1.5"/>
<path d="M141.3 424L135.3 444.3"/>
<path d="M178.5 413.5L187 412.5C189 415 189.5 420 188 423L187.5 433.5L179.5 434.5C178 430 178 420 178.5 413.5Z"/>
<circle cx="184" cy="418.5" r="2.4" fill="#F98A1C" stroke-width="0.6"/><circle cx="184" cy="418.5" r="0.5" fill="#FBC28E" stroke="none"/>
<circle cx="183.5" cy="429.5" r="2.4" fill="#F98A1C" stroke-width="0.6"/><circle cx="183.5" cy="429.5" r="0.5" fill="#FBC28E" stroke="none"/>
<circle cx="146.6" cy="424.8" r="2" fill="#F98A1C" stroke="none"/>
<circle cx="151.8" cy="424.6" r="2" fill="#F98A1C" stroke="none"/>
<circle cx="149.5" cy="421.8" r="1.7" fill="#F98A1C" stroke="none"/>
<circle cx="144.5" cy="428.5" r="1.5" fill="#F98A1C" stroke="none"/>
</g>
<g class="ln">
<path d="M371.1 289.3L355.8 275.8A2.6 2.6 0 0 0 352.3 279.7L367.6 293.2A2.6 2.6 0 0 0 371.1 289.3Z"/>
<path d="M363.9 297L356.5 276.9A2.6 2.6 0 0 0 351.6 278.7L359 298.8A2.6 2.6 0 0 0 363.9 297Z"/>
<circle cx="354" cy="277.8" r="2.2" fill="#F98A1C" stroke-width="0.6"/><circle cx="354" cy="277.8" r="0.5" fill="#FBC28E" stroke="none"/>
<circle cx="369.3" cy="291.3" r="2" fill="#F98A1C" stroke-width="0.6"/><circle cx="369.3" cy="291.3" r="0.4" fill="#FBC28E" stroke="none"/>
<path d="M351 270.6L352.4 278.1"/>
<path d="M354.3 270L355.7 277.5"/>
</g>
<g class="ln" transform="translate(270.4 368.7) rotate(0.00) translate(-270 -368.5)">
<path d="M284.8 341.5L272.5 343.9Q262 346.5 256.1 350.5L239.8 360.3L236.5 363.3L243 369L205 402.3L190 414L180.8 422.5C177.5 426 177 431.5 180 434.3C182.5 436.5 186.5 435.8 188.1 432.5L190.6 427.5L197.1 430C199 433.5 204 434 206.1 428.4L207 421L248 393.9L250.4 392.3C251 398.5 257.5 399.5 258.6 393.9L260.2 387.4Q261 382 265 378.5L272.5 374.3L282.4 370.2Q289.5 366 290 357Q290 346 284.8 341.5Z"/>
<circle cx="270" cy="368.5" r="3.4" fill="#F98A1C" stroke-width="0.6"/><circle cx="270" cy="368.5" r="0.7" fill="#FBC28E" stroke="none"/>
<circle cx="271.6" cy="367.6" r="3" fill="#F98A1C" stroke-width="0.6"/><circle cx="271.6" cy="367.6" r="0.7" fill="#FBC28E" stroke="none"/>
<circle cx="278.3" cy="347.2" r="2.9" fill="#F98A1C" stroke-width="0.6"/><circle cx="278.3" cy="347.2" r="0.6" fill="#FBC28E" stroke="none"/>
<circle cx="279.8" cy="346.4" r="2.5" fill="#F98A1C" stroke-width="0.6"/><circle cx="279.8" cy="346.4" r="0.6" fill="#FBC28E" stroke="none"/>
<circle cx="243.9" cy="361.6" r="2.4" fill="#F98A1C" stroke-width="0.6"/><circle cx="243.9" cy="361.6" r="0.5" fill="#FBC28E" stroke="none"/>
<circle cx="247.5" cy="358.8" r="1.9" fill="#F98A1C" stroke-width="0.6"/><circle cx="247.5" cy="358.8" r="0.4" fill="#FBC28E" stroke="none"/>
<circle cx="202.4" cy="428.9" r="1.7"/>
<circle cx="254.5" cy="394.6" r="1.8"/>
<circle cx="248.2" cy="395.8" r="1.4" fill="#F98A1C" stroke-width="0.6"/><circle cx="248.2" cy="395.8" r="0.3" fill="#FBC28E" stroke="none"/>
<path d="M248.5 395L247 399.5" stroke-width="1.8"/>
<circle cx="219.5" cy="398.5" r="1" fill="#F98A1C" stroke="none"/>
<circle cx="224" cy="394.2" r="1" fill="#F98A1C" stroke="none"/>
<circle cx="223.5" cy="402" r="1" fill="#F98A1C" stroke="none"/>
<circle cx="228" cy="397.8" r="1" fill="#F98A1C" stroke="none"/>
<path d="M258 361.5C259 356 265.5 352.5 270.5 353.5C268.5 357 267 360.5 268.5 364C264.5 366 259.5 365 258 361.5Z"/>
<circle cx="183.5" cy="429.5" r="2.2"/>
<path d="M235.7 363.6L202.9 394.8L207.8 399.7L242.2 369.3Z"/>
<path d="M238.3 365.3L240.6 367.6L237.5 370.5L235.2 368.2Z" stroke-width="0.7"/>
<path d="M204.2 393.6L201.9 395.8L206.7 400.8L209 398.6" stroke-width="0.7"/>
</g>
<g class="ln">
<path d="M285.8 339.2L277.5 345.9"/>
<path d="M288.3 342.3L279.9 349"/>
</g>
<g class="ln" transform="translate(183.9 429.7) rotate(0.00) translate(-183.5 -429.5)">
<path d="M180.7 414.8C176 408 171 404 165 402.6C159 401.5 153.5 403.5 149.6 407C146 410.5 143.5 415.5 141.4 420.2L139 423.4L132.5 446.5L141.4 441.5L156.1 433.3L156.5 428.4L167.6 426.7L180.7 427.5"/>
<path d="M139.8 422.6L146 420.6L155.3 425.1L156.1 433.3M143.5 437.5L147 428.3L153 429.3L153.2 433.6Z" stroke-width="1.5"/>
<path d="M141.3 424L135.3 444.3"/>
<path d="M178.5 413.5L187 412.5C189 415 189.5 420 188 423L187.5 433.5L179.5 434.5C178 430 178 420 178.5 413.5Z"/>
<circle cx="184" cy="418.5" r="2.4" fill="#F98A1C" stroke-width="0.6"/><circle cx="184" cy="418.5" r="0.5" fill="#FBC28E" stroke="none"/>
<circle cx="183.5" cy="429.5" r="2.4" fill="#F98A1C" stroke-width="0.6"/><circle cx="183.5" cy="429.5" r="0.5" fill="#FBC28E" stroke="none"/>
<circle cx="146.6" cy="424.8" r="2" fill="#F98A1C" stroke="none"/>
<circle cx="151.8" cy="424.6" r="2" fill="#F98A1C" stroke="none"/>
<circle cx="149.5" cy="421.8" r="1.7" fill="#F98A1C" stroke="none"/>
<circle cx="144.5" cy="428.5" r="1.5" fill="#F98A1C" stroke="none"/>
</g>
<g class="ln">
<path d="M195.9 423.6L201.7 404A2.6 2.6 0 0 0 196.7 402.5L190.9 422.1A2.6 2.6 0 0 0 195.9 423.6Z"/>
<path d="M186.3 420.5L201.1 405.1A2.6 2.6 0 0 0 197.3 401.5L182.5 416.9A2.6 2.6 0 0 0 186.3 420.5Z"/>
<circle cx="199.2" cy="403.3" r="2.2" fill="#F98A1C" stroke-width="0.6"/><circle cx="199.2" cy="403.3" r="0.5" fill="#FBC28E" stroke="none"/>
<circle cx="193.4" cy="422.8" r="2" fill="#F98A1C" stroke-width="0.6"/><circle cx="193.4" cy="422.8" r="0.4" fill="#FBC28E" stroke="none"/>
<path d="M203.6 397.2L198.1 402"/>
<path d="M205.8 399.8L200.3 404.6"/>
</g>
<g class="ln" transform="translate(327.9 495.4) rotate(-41.11) translate(-270 -368.5)">
<path d="M284.8 341.5L272.5 343.9Q262 346.5 256.1 350.5L239.8 360.3L236.5 363.3L243 369L205 402.3L190 414L180.8 422.5C177.5 426 177 431.5 180 434.3C182.5 436.5 186.5 435.8 188.1 432.5L190.6 427.5L197.1 430C199 433.5 204 434 206.1 428.4L207 421L248 393.9L250.4 392.3C251 398.5 257.5 399.5 258.6 393.9L260.2 387.4Q261 382 265 378.5L272.5 374.3L282.4 370.2Q289.5 366 290 357Q290 346 284.8 341.5Z"/>
<circle cx="270" cy="368.5" r="3.4" fill="#F98A1C" stroke-width="0.6"/><circle cx="270" cy="368.5" r="0.7" fill="#FBC28E" stroke="none"/>
<circle cx="271.6" cy="367.6" r="3" fill="#F98A1C" stroke-width="0.6"/><circle cx="271.6" cy="367.6" r="0.7" fill="#FBC28E" stroke="none"/>
<circle cx="278.3" cy="347.2" r="2.9" fill="#F98A1C" stroke-width="0.6"/><circle cx="278.3" cy="347.2" r="0.6" fill="#FBC28E" stroke="none"/>
<circle cx="279.8" cy="346.4" r="2.5" fill="#F98A1C" stroke-width="0.6"/><circle cx="279.8" cy="346.4" r="0.6" fill="#FBC28E" stroke="none"/>
<circle cx="243.9" cy="361.6" r="2.4" fill="#F98A1C" stroke-width="0.6"/><circle cx="243.9" cy="361.6" r="0.5" fill="#FBC28E" stroke="none"/>
<circle cx="247.5" cy="358.8" r="1.9" fill="#F98A1C" stroke-width="0.6"/><circle cx="247.5" cy="358.8" r="0.4" fill="#FBC28E" stroke="none"/>
<circle cx="202.4" cy="428.9" r="1.7"/>
<circle cx="254.5" cy="394.6" r="1.8"/>
<circle cx="248.2" cy="395.8" r="1.4" fill="#F98A1C" stroke-width="0.6"/><circle cx="248.2" cy="395.8" r="0.3" fill="#FBC28E" stroke="none"/>
<path d="M248.5 395L247 399.5" stroke-width="1.8"/>
<circle cx="219.5" cy="398.5" r="1" fill="#F98A1C" stroke="none"/>
<circle cx="224" cy="394.2" r="1" fill="#F98A1C" stroke="none"/>
<circle cx="223.5" cy="402" r="1" fill="#F98A1C" stroke="none"/>
<circle cx="228" cy="397.8" r="1" fill="#F98A1C" stroke="none"/>
<path d="M258 361.5C259 356 265.5 352.5 270.5 353.5C268.5 357 267 360.5 268.5 364C264.5 366 259.5 365 258 361.5Z"/>
<circle cx="183.5" cy="429.5" r="2.2"/>
<path d="M235.7 363.6L202.9 394.8L207.8 399.7L242.2 369.3Z"/>
<path d="M238.3 365.3L240.6 367.6L237.5 370.5L235.2 368.2Z" stroke-width="0.7"/>
<path d="M204.2 393.6L201.9 395.8L206.7 400.8L209 398.6" stroke-width="0.7"/>
</g>
<g class="ln">
<path d="M319.3 463.3L318.1 473.7"/>
<path d="M323.3 463.7L322.1 474.1"/>
</g>
<g class="ln" transform="translate(302.8 598.2) rotate(-42.17) translate(-183.5 -429.5)">
<path d="M180.7 414.8C176 408 171 404 165 402.6C159 401.5 153.5 403.5 149.6 407C146 410.5 143.5 415.5 141.4 420.2L139 423.4L132.5 446.5L141.4 441.5L156.1 433.3L156.5 428.4L167.6 426.7L180.7 427.5"/>
<path d="M139.8 422.6L146 420.6L155.3 425.1L156.1 433.3M143.5 437.5L147 428.3L153 429.3L153.2 433.6Z" stroke-width="1.5"/>
<path d="M141.3 424L135.3 444.3"/>
<path d="M178.5 413.5L187 412.5C189 415 189.5 420 188 423L187.5 433.5L179.5 434.5C178 430 178 420 178.5 413.5Z"/>
<circle cx="184" cy="418.5" r="2.4" fill="#F98A1C" stroke-width="0.6"/><circle cx="184" cy="418.5" r="0.5" fill="#FBC28E" stroke="none"/>
<circle cx="183.5" cy="429.5" r="2.4" fill="#F98A1C" stroke-width="0.6"/><circle cx="183.5" cy="429.5" r="0.5" fill="#FBC28E" stroke="none"/>
<circle cx="146.6" cy="424.8" r="2" fill="#F98A1C" stroke="none"/>
<circle cx="151.8" cy="424.6" r="2" fill="#F98A1C" stroke="none"/>
<circle cx="149.5" cy="421.8" r="1.7" fill="#F98A1C" stroke="none"/>
<circle cx="144.5" cy="428.5" r="1.5" fill="#F98A1C" stroke="none"/>
</g>
<g class="ln">
<path d="M307.8 585.7L299 567.2A2.6 2.6 0 0 0 294.3 569.5L303.1 587.9A2.6 2.6 0 0 0 307.8 585.7Z"/>
<path d="M298.4 589.8L299.3 568.5A2.6 2.6 0 0 0 294.1 568.2L293.2 589.6A2.6 2.6 0 0 0 298.4 589.8Z"/>
<circle cx="296.7" cy="568.4" r="2.2" fill="#F98A1C" stroke-width="0.6"/><circle cx="296.7" cy="568.4" r="0.5" fill="#FBC28E" stroke="none"/>
<circle cx="305.4" cy="586.8" r="2" fill="#F98A1C" stroke-width="0.6"/><circle cx="305.4" cy="586.8" r="0.4" fill="#FBC28E" stroke="none"/>
<path d="M296.3 560.7L295 568.1"/>
<path d="M299.6 561.3L298.3 568.7"/>
</g>
<g class="ln" transform="translate(327.9 495.4) rotate(-162.31) translate(-270 -368.5)">
<path d="M284.8 341.5L272.5 343.9Q262 346.5 256.1 350.5L239.8 360.3L236.5 363.3L243 369L205 402.3L190 414L180.8 422.5C177.5 426 177 431.5 180 434.3C182.5 436.5 186.5 435.8 188.1 432.5L190.6 427.5L197.1 430C199 433.5 204 434 206.1 428.4L207 421L248 393.9L250.4 392.3C251 398.5 257.5 399.5 258.6 393.9L260.2 387.4Q261 382 265 378.5L272.5 374.3L282.4 370.2Q289.5 366 290 357Q290 346 284.8 341.5Z"/>
<circle cx="270" cy="368.5" r="3.4" fill="#F98A1C" stroke-width="0.6"/><circle cx="270" cy="368.5" r="0.7" fill="#FBC28E" stroke="none"/>
<circle cx="271.6" cy="367.6" r="3" fill="#F98A1C" stroke-width="0.6"/><circle cx="271.6" cy="367.6" r="0.7" fill="#FBC28E" stroke="none"/>
<circle cx="278.3" cy="347.2" r="2.9" fill="#F98A1C" stroke-width="0.6"/><circle cx="278.3" cy="347.2" r="0.6" fill="#FBC28E" stroke="none"/>
<circle cx="279.8" cy="346.4" r="2.5" fill="#F98A1C" stroke-width="0.6"/><circle cx="279.8" cy="346.4" r="0.6" fill="#FBC28E" stroke="none"/>
<circle cx="243.9" cy="361.6" r="2.4" fill="#F98A1C" stroke-width="0.6"/><circle cx="243.9" cy="361.6" r="0.5" fill="#FBC28E" stroke="none"/>
<circle cx="247.5" cy="358.8" r="1.9" fill="#F98A1C" stroke-width="0.6"/><circle cx="247.5" cy="358.8" r="0.4" fill="#FBC28E" stroke="none"/>
<circle cx="202.4" cy="428.9" r="1.7"/>
<circle cx="254.5" cy="394.6" r="1.8"/>
<circle cx="248.2" cy="395.8" r="1.4" fill="#F98A1C" stroke-width="0.6"/><circle cx="248.2" cy="395.8" r="0.3" fill="#FBC28E" stroke="none"/>
<path d="M248.5 395L247 399.5" stroke-width="1.8"/>
<circle cx="219.5" cy="398.5" r="1" fill="#F98A1C" stroke="none"/>
<circle cx="224" cy="394.2" r="1" fill="#F98A1C" stroke="none"/>
<circle cx="223.5" cy="402" r="1" fill="#F98A1C" stroke="none"/>
<circle cx="228" cy="397.8" r="1" fill="#F98A1C" stroke="none"/>
<path d="M258 361.5C259 356 265.5 352.5 270.5 353.5C268.5 357 267 360.5 268.5 364C264.5 366 259.5 365 258 361.5Z"/>
<circle cx="183.5" cy="429.5" r="2.2"/>
<path d="M235.7 363.6L202.9 394.8L207.8 399.7L242.2 369.3Z"/>
<path d="M238.3 365.3L240.6 367.6L237.5 370.5L235.2 368.2Z" stroke-width="0.7"/>
<path d="M204.2 393.6L201.9 395.8L206.7 400.8L209 398.6" stroke-width="0.7"/>
</g>
<g class="ln">
<path d="M319.3 463.2L311.5 512.9"/>
<path d="M323.3 463.8L315.4 513.5"/>
</g>
<g class="ln" transform="translate(428.8 463.6) rotate(-168.64) translate(-183.5 -429.5)">
<path d="M180.7 414.8C176 408 171 404 165 402.6C159 401.5 153.5 403.5 149.6 407C146 410.5 143.5 415.5 141.4 420.2L139 423.4L132.5 446.5L141.4 441.5L156.1 433.3L156.5 428.4L167.6 426.7L180.7 427.5"/>
<path d="M139.8 422.6L146 420.6L155.3 425.1L156.1 433.3M143.5 437.5L147 428.3L153 429.3L153.2 433.6Z" stroke-width="1.5"/>
<path d="M141.3 424L135.3 444.3"/>
<path d="M178.5 413.5L187 412.5C189 415 189.5 420 188 423L187.5 433.5L179.5 434.5C178 430 178 420 178.5 413.5Z"/>
<circle cx="184" cy="418.5" r="2.4" fill="#F98A1C" stroke-width="0.6"/><circle cx="184" cy="418.5" r="0.5" fill="#FBC28E" stroke="none"/>
<circle cx="183.5" cy="429.5" r="2.4" fill="#F98A1C" stroke-width="0.6"/><circle cx="183.5" cy="429.5" r="0.5" fill="#FBC28E" stroke="none"/>
<circle cx="146.6" cy="424.8" r="2" fill="#F98A1C" stroke="none"/>
<circle cx="151.8" cy="424.6" r="2" fill="#F98A1C" stroke="none"/>
<circle cx="149.5" cy="421.8" r="1.7" fill="#F98A1C" stroke="none"/>
<circle cx="144.5" cy="428.5" r="1.5" fill="#F98A1C" stroke="none"/>
</g>
<g class="ln">
<path d="M415.4 466L405.4 483.8A2.6 2.6 0 0 0 409.9 486.3L419.9 468.5A2.6 2.6 0 0 0 415.4 466Z"/>
<path d="M424.8 472L406.3 482.8A2.6 2.6 0 0 0 409 487.3L427.5 476.5A2.6 2.6 0 0 0 424.8 472Z"/>
<circle cx="407.7" cy="485" r="2.2" fill="#F98A1C" stroke-width="0.6"/><circle cx="407.7" cy="485" r="0.5" fill="#FBC28E" stroke="none"/>
<circle cx="417.7" cy="467.3" r="2" fill="#F98A1C" stroke-width="0.6"/><circle cx="417.7" cy="467.3" r="0.4" fill="#FBC28E" stroke="none"/>
<path d="M399.9 488.6L408.1 486.7"/>
<path d="M399.1 485.3L407.3 483.4"/>
</g>
<g class="ln">
<circle cx="462.4" cy="358" r="5.6" fill="#F98A1C"/>
<circle cx="463.2" cy="358" r="1.5" fill="#fff" stroke="none"/>
<circle cx="450.4" cy="378.6" r="5.4" fill="#F98A1C"/>
<circle cx="450.9" cy="378.9" r="1.4" fill="#fff" stroke="none"/>
<path d="M450.5 384L459 398H477M466.5 351.5L471.5 358.5M456.5 347.5L459 350.5L463 350L465.5 346.5L468 345M455 352.5L458.5 355.5M453.5 362L457.5 366.5M467.5 360.5L474 361.3"/>
</g>
<g fill="#F98A1C" stroke="#F98A1C" stroke-width="0.4">
<path d="M332 19.3L336.2 18.4L336.2 20.2Z"/>
<path d="M630 19.3L625.8 18.4L625.8 20.2Z"/>
<path d="M332 103.3L336.2 102.4L336.2 104.2Z"/>
<path d="M506.3 103.3L502.1 102.4L502.1 104.2Z"/>
<path d="M507.7 103.3L511.9 102.4L511.9 104.2Z"/>
<path d="M615.5 103.3L611.3 102.4L611.3 104.2Z"/>
<path d="M690.4 99.3L694.6 98.4L694.6 100.2Z"/>
<path d="M808.1 99.3L803.9 98.4L803.9 100.2Z"/>
<path d="M54.7 119.3L53.8 123.5L55.6 123.5Z"/>
<path d="M54.7 446.8L53.8 442.6L55.6 442.6Z"/>
<path d="M83 205.5L82.1 209.7L83.9 209.7Z"/>
<path d="M83 446.8L82.1 442.6L83.9 442.6Z"/>
<path d="M60.3 446.8L59.4 451L61.2 451Z"/>
<path d="M60.3 653.5L59.4 649.3L61.2 649.3Z"/>
<path d="M133.8 680.3L138 679.4L138 681.2Z"/>
<path d="M507 680.3L502.8 679.4L502.8 681.2Z"/>
<path d="M448.6 498.8L452.8 497.9L452.8 499.7Z"/>
<path d="M564.3 498.8L560.1 497.9L560.1 499.7Z"/>
<path d="M427.5 532L431.7 531.1L431.7 532.9Z"/>
<path d="M583.8 532L579.6 531.1L579.6 532.9Z"/>
<path d="M689.5 490L693.7 489.1L693.7 490.9Z"/>
<path d="M810 490L805.8 489.1L805.8 490.9Z"/>
<path d="M785.8 465L790 464.1L790 465.9Z"/>
<path d="M810 465L805.8 464.1L805.8 465.9Z"/>
<path d="M869.5 154.3L868.6 158.5L870.4 158.5Z"/>
<path d="M869.5 446.8L868.6 442.6L870.4 442.6Z"/>
<path d="M852.8 248.7L851.9 252.9L853.7 252.9Z"/>
<path d="M852.8 446.8L851.9 442.6L853.7 442.6Z"/>
<path d="M606.9 405.7L606 409.9L607.8 409.9Z"/>
<path d="M606.9 446.8L606 442.6L607.8 442.6Z"/>
<path d="M643.4 396.6L642.5 400.8L644.3 400.8Z"/>
<path d="M643.4 446.8L642.5 442.6L644.3 442.6Z"/>
<path d="M242.3 424.3L241.4 428.5L243.2 428.5Z"/>
<path d="M242.3 446.8L241.4 442.6L243.2 442.6Z"/>
<path d="M281 446.8L280.1 451L281.9 451Z"/>
<path d="M281 468.2L280.1 464L281.9 464Z"/>
</g>
</svg>
</body>
</html>
